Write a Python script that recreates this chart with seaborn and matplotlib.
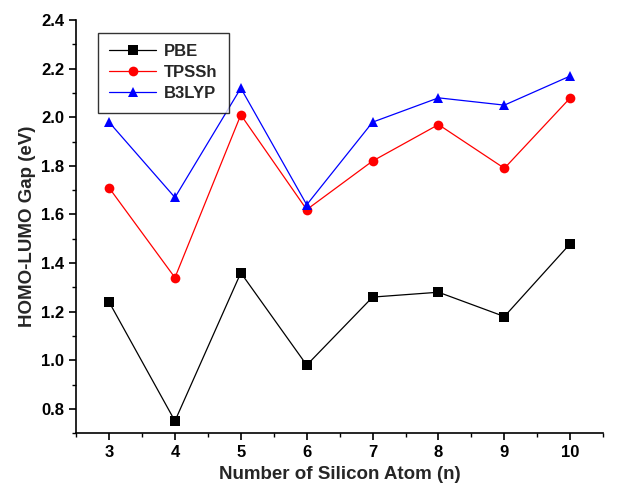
import pandas as pd
import numpy as np
import matplotlib
matplotlib.use('Agg')
import matplotlib.pyplot as plt
import seaborn as sns
from matplotlib.ticker import MultipleLocator

n_atoms = [3, 4, 5, 6, 7, 8, 9, 10]
pbe = [1.24, 0.75, 1.36, 0.98, 1.26, 1.28, 1.18, 1.48]
tpssh = [1.71, 1.34, 2.01, 1.62, 1.82, 1.97, 1.79, 2.08]
b3lyp = [1.98, 1.67, 2.12, 1.64, 1.98, 2.08, 2.05, 2.17]
methods = ['PBE', 'TPSSh', 'B3LYP']

df = pd.DataFrame({'n': n_atoms * 3,
                   'gap': pbe + tpssh + b3lyp,
                   'method': [m for m in methods for _ in n_atoms]})

sns.set_style('ticks')
plt.rcParams['font.family'] = ['Liberation Sans', 'DejaVu Sans']
plt.rcParams['font.weight'] = 'bold'

fig = plt.figure(figsize=(6.29, 4.9), dpi=100)
ax = fig.add_axes([0.121, 0.116, 0.838, 0.843])

sns.lineplot(data=df, x='n', y='gap', hue='method', style='method',
             palette={'PBE': 'black', 'TPSSh': 'red', 'B3LYP': 'blue'},
             markers={'PBE': 's', 'TPSSh': 'o', 'B3LYP': '^'},
             dashes=False, markersize=7, linewidth=0.9,
             markeredgewidth=0, ax=ax)

ax.set_xlim(2.5, 10.5)
ax.set_ylim(0.7, 2.4)
ax.xaxis.set_major_locator(MultipleLocator(1))
ax.xaxis.set_minor_locator(MultipleLocator(0.5))
ax.yaxis.set_minor_locator(MultipleLocator(0.1))
yt = np.arange(0.8, 2.41, 0.2)
ax.set_yticks(yt)
ax.set_yticklabels([f'{v:.1f}' for v in yt])
ax.tick_params(which='major', direction='out', length=5, width=1.2,
               labelsize=12, colors='black')
ax.tick_params(which='minor', direction='out', length=3, width=1.0,
               colors='black')
for lab in ax.get_xticklabels() + ax.get_yticklabels():
    lab.set_fontweight('bold')
for s in ['top', 'right']:
    ax.spines[s].set_visible(False)
for s in ['left', 'bottom']:
    ax.spines[s].set_linewidth(1.2)
    ax.spines[s].set_color('black')

ax.set_xlabel('Number of Silicon Atom (n)', fontsize=13.5, fontweight='bold')
ax.set_ylabel('HOMO-LUMO Gap (eV)', fontsize=13.5, fontweight='bold')

leg = ax.legend(loc='upper left', bbox_to_anchor=(0.025, 0.99), fontsize=12,
                frameon=True, fancybox=False, edgecolor='black',
                handlelength=2.8, handletextpad=0.5, borderpad=0.7,
                labelspacing=0.35)
leg.get_frame().set_linewidth(1.0)
for t in leg.get_texts():
    t.set_fontweight('bold')

fig.savefig('out.png', dpi=100)
